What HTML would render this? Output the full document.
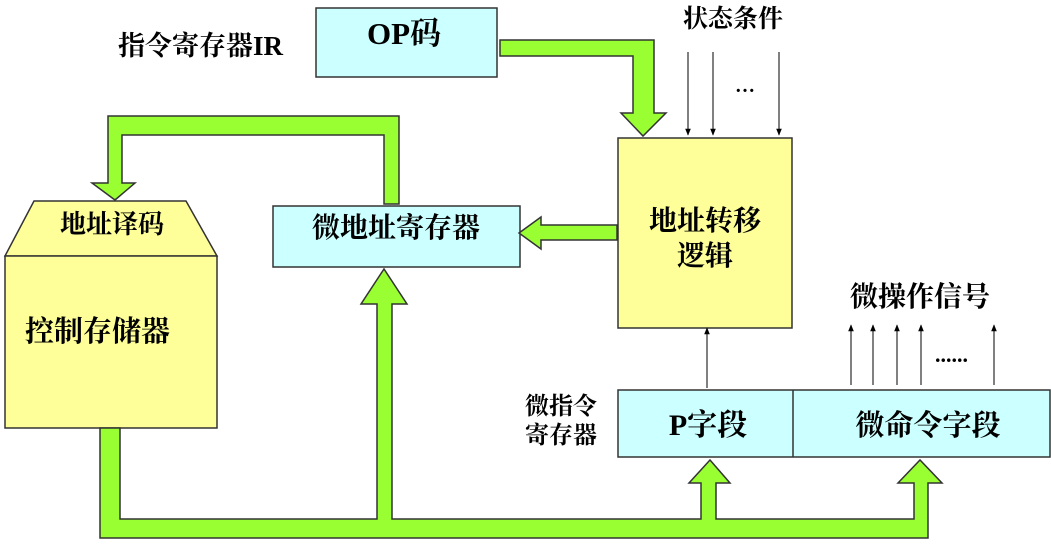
<!DOCTYPE html>
<html><head><meta charset="utf-8"><style>
html,body{margin:0;padding:0;background:#fff;}
svg text{font-family:"Liberation Serif","Noto Serif CJK SC","Noto Sans CJK SC",serif;font-weight:bold;fill:#000;}
</style></head><body>
<svg width="1051" height="543" viewBox="0 0 1051 543" xmlns="http://www.w3.org/2000/svg">
<defs>
<marker id="ah" viewBox="0 0 10 10" markerWidth="7" markerHeight="9" refX="9" refY="5" orient="auto" markerUnits="userSpaceOnUse"><path d="M0,1 L10,5 L0,9 z" fill="#000"/></marker></defs>
<g stroke="#333" stroke-width="1.5">
<rect x="316" y="8" width="181" height="69" fill="#ccffff"/>
<path d="M500,40 L654,40 L654,113 L666,113 L643,136 L621,113 L633,113 L633,56 L500,56 Z" fill="#99ff33"/>
<rect x="618" y="138" width="174" height="190" fill="#ffff99"/>
<rect x="273" y="206" width="247" height="61" fill="#ccffff"/>
<path d="M617,225 L541,225 L541,217 L519,233 L541,249 L541,240 L617,240 Z" fill="#99ff33"/>
<path d="M399,204 L399,116 L108,116 L108,183 L92,183 L115,200 L135,183 L122,183 L122,135 L384,135 L384,204 Z" fill="#99ff33"/>
<path d="M34,201 L186,201 L217,256 L5,256 Z" fill="#ffff99"/>
<rect x="5" y="256" width="212" height="172" fill="#ffff99"/>
<rect x="618" y="390" width="432" height="67" fill="#ccffff"/>
<line x1="793" y1="390" x2="793" y2="457"/>
<path d="M100,428 L100,538 L928,538 L928,483 L942,483 L920,460 L898,483 L914,483 L914,519 L716,519 L716,483 L730,483 L710,460 L689,483 L701,483 L701,519 L392,519 L392,304 L407,304 L384,269 L361,304 L377,304 L377,519 L120,519 L120,428 Z" fill="#99ff33"/>
</g>
<g stroke="#000" stroke-width="1" marker-end="url(#ah)">
<line x1="688" y1="52" x2="688" y2="135"/>
<line x1="713" y1="52" x2="713" y2="135"/>
<line x1="779" y1="52" x2="779" y2="135"/>
<line x1="707" y1="388" x2="707" y2="328"/>
<line x1="851" y1="385" x2="851" y2="325"/>
<line x1="873" y1="385" x2="873" y2="325"/>
<line x1="897" y1="385" x2="897" y2="325"/>
<line x1="921" y1="385" x2="921" y2="325"/>
<line x1="994" y1="385" x2="994" y2="325"/>
</g>
<text x="404" y="44" font-size="31" text-anchor="middle">OP码</text>
<text x="118" y="55" font-size="27">指令寄存器IR</text>
<text x="683" y="27" font-size="25">状态条件</text>
<text x="735" y="92" font-size="20">…</text>
<text x="705" y="230" font-size="28" text-anchor="middle">地址转移</text>
<text x="705" y="265" font-size="28" text-anchor="middle">逻辑</text>
<text x="396" y="237" font-size="28" text-anchor="middle">微地址寄存器</text>
<text x="112" y="233" font-size="26" text-anchor="middle">地址译码</text>
<text x="25" y="341" font-size="29">控制存储器</text>
<text x="850" y="306" font-size="28">微操作信号</text>
<text x="935" y="362" font-size="22">......</text>
<text x="525" y="414" font-size="24">微指令</text>
<text x="525" y="443" font-size="24">寄存器</text>
<text x="708" y="435" font-size="30" text-anchor="middle">P字段</text>
<text x="928" y="435" font-size="29" text-anchor="middle">微命令字段</text>
</svg>
</body></html>
